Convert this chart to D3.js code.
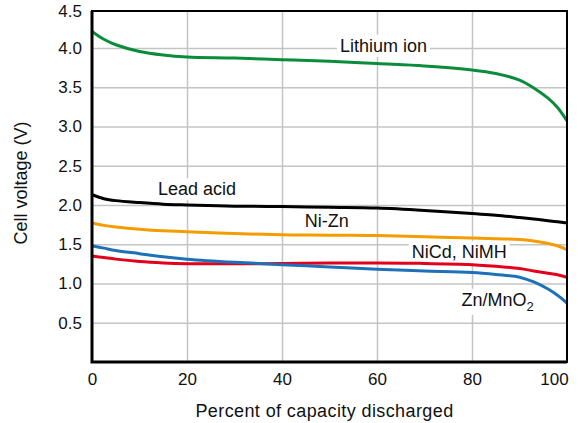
<!DOCTYPE html>
<html>
<head>
<meta charset="utf-8">
<script src="https://cdn.jsdelivr.net/npm/d3@7"></script>
<style>
  body { margin: 0; background: #fff; }
  svg text { font-family: "Liberation Sans", Arial, sans-serif; fill: #111; }
</style>
</head>
<body>
<div id="chart"></div>
<script>
// percent of capacity discharged
var capacity = [0, 2.5, 5, 10, 15, 20, 30, 40, 50, 60, 70, 80, 85, 90, 93, 96, 98, 100];

// cell voltage (V)
var lithiumIon = [4.21, 4.11, 4.04, 3.955, 3.91, 3.885, 3.87, 3.85, 3.83, 3.80, 3.77, 3.72, 3.675, 3.59, 3.49, 3.36, 3.24, 3.07];
var leadAcid   = [2.13, 2.08, 2.055, 2.03, 2.01, 2.00, 1.985, 1.98, 1.97, 1.96, 1.93, 1.89, 1.87, 1.84, 1.82, 1.80, 1.785, 1.77];
var niZn       = [1.77, 1.74, 1.72, 1.69, 1.67, 1.66, 1.635, 1.62, 1.615, 1.61, 1.595, 1.58, 1.57, 1.56, 1.54, 1.51, 1.48, 1.43];
var niCd       = [1.35, 1.33, 1.31, 1.28, 1.262, 1.252, 1.25, 1.255, 1.26, 1.26, 1.255, 1.24, 1.22, 1.19, 1.16, 1.13, 1.11, 1.08];
var znMnO2     = [1.48, 1.45, 1.42, 1.38, 1.34, 1.31, 1.27, 1.24, 1.21, 1.18, 1.16, 1.14, 1.115, 1.08, 1.02, 0.93, 0.85, 0.75];

var seriesNames = ["Lithium ion", "Lead acid", "Ni-Zn", "NiCd, NiMH", "Zn/MnO2"];
var seriesValues = [lithiumIon, leadAcid, niZn, niCd, znMnO2];
var seriesColors = ["#0b8c3c", "#000000", "#f59c00", "#e2001a", "#1d71b8"];

var xTicks = [0, 20, 40, 60, 80, 100];
var yTicks = [0.5, 1.0, 1.5, 2.0, 2.5, 3.0, 3.5, 4.0, 4.5];

// label anchors in data units (x %, y volts at baseline)
var labelSpots = [
    {name: "Lithium ion", x: 52.2, y: 3.95},
    {name: "Lead acid", x: 13.9, y: 2.125},
    {name: "Ni-Zn", x: 44.8, y: 1.72},
    {name: "NiCd, NiMH", x: 67.3, y: 1.32},
    {name: "Zn/MnO2", x: 77.8, y: 0.715}
];

var W = 578, H = 423;
var margin = {top: 11, right: 11, bottom: 61, left: 92};
var width = W - margin.left - margin.right;
var height = H - margin.top - margin.bottom;

var svg = d3.select("#chart").append("svg")
    .attr("width", W)
    .attr("height", H);

var g = svg.append("g")
    .attr("transform", "translate(" + margin.left + "," + margin.top + ")");

var x = d3.scaleLinear().domain([0, 100]).range([0, width]);
var y = d3.scaleLinear().domain([0, 4.47]).range([height, 0]).clamp(true);

// grid
g.append("g")
    .call(d3.axisLeft(y).tickValues(yTicks.filter(function(d) { return d < 4.5; })).tickSize(-width).tickFormat(""))
    .call(function(s) { s.select(".domain").remove(); })
    .selectAll("line").attr("stroke", "#c4c4c4").attr("stroke-width", 1.5);

g.append("g")
    .attr("transform", "translate(0," + height + ")")
    .call(d3.axisBottom(x).tickValues(xTicks.slice(1, -1)).tickSize(-height).tickFormat(""))
    .call(function(s) { s.select(".domain").remove(); })
    .selectAll("line").attr("stroke", "#c4c4c4").attr("stroke-width", 1.5);

// label backgrounds go over the grid, under the curves
var bgLayer = g.append("g");

var line = d3.line()
    .x(function(d) { return x(d[0]); })
    .y(function(d) { return y(d[1]); })
    .curve(d3.curveCatmullRom.alpha(0.5));

seriesValues.forEach(function(vals, i) {
    g.append("path")
        .datum(capacity.map(function(c, j) { return [c, vals[j]]; }))
        .attr("fill", "none")
        .attr("stroke", seriesColors[i])
        .attr("stroke-width", 3)
        .attr("stroke-linejoin", "round")
        .attr("d", line);
});

// frame
g.append("rect")
    .attr("width", width).attr("height", height)
    .attr("fill", "none").attr("stroke", "#000").attr("stroke-width", 2);
g.append("path")
    .attr("d", "M0,0V" + height + "H" + width)
    .attr("fill", "none").attr("stroke", "#000").attr("stroke-width", 3);

// axes
var yAxis = g.append("g")
    .call(d3.axisLeft(y).tickValues(yTicks).tickSize(0).tickPadding(10).tickFormat(d3.format(".1f")));
yAxis.select(".domain").remove();
yAxis.selectAll("text").style("font-size", "17px").attr("fill", "#111");

var xAxis = g.append("g")
    .attr("transform", "translate(0," + height + ")")
    .call(d3.axisBottom(x).tickValues(xTicks).tickSize(0).tickPadding(11));
xAxis.select(".domain").remove();
xAxis.selectAll("text").style("font-size", "17px").attr("fill", "#111");
xAxis.selectAll(".tick text").filter(function(d) { return d === 100; }).attr("dx", -13);

svg.append("text")
    .attr("x", margin.left + width / 2 - 5)
    .attr("y", 417)
    .attr("text-anchor", "middle")
    .style("font-size", "18px")
    .style("letter-spacing", "0.4px")
    .text("Percent of capacity discharged");

svg.append("text")
    .attr("transform", "translate(27,183) rotate(-90)")
    .attr("text-anchor", "middle")
    .style("font-size", "18px")
    .text("Cell voltage (V)");

// series labels
labelSpots.forEach(function(l) {
    var t = g.append("text")
        .attr("x", x(l.x))
        .attr("y", y(l.y))
        .style("font-size", "18px");
    if (l.name === "Zn/MnO2") {
        t.append("tspan").text("Zn/MnO");
        t.append("tspan").attr("dy", 5).style("font-size", "13px").text("2");
    } else {
        t.text(l.name);
    }
    var b = t.node().getBBox();
    bgLayer.append("rect")
        .attr("x", b.x - 3).attr("y", b.y - 1)
        .attr("width", b.width + 6).attr("height", b.height + 2)
        .attr("fill", "#fff");
});
</script>
</body>
</html>
